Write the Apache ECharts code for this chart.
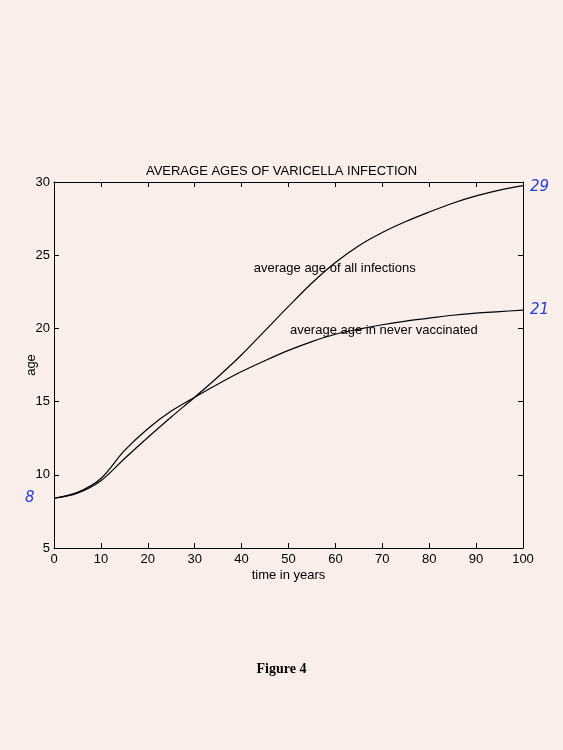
<!DOCTYPE html>
<html>
<head>
<meta charset="utf-8">
<script src="https://cdn.jsdelivr.net/npm/echarts@6/dist/echarts.min.js"></script>
<style>
  html, body { margin: 0; padding: 0; background: #f9eeea; }
  #main { width: 563px; height: 750px; }
</style>
</head>
<body>
<div id="main"></div>
<script>
// time in years
const years = [0, 5, 10, 15, 20, 25, 30, 35, 40, 45, 50, 55, 60, 65, 70, 75, 80, 85, 90, 95, 100];
// average age of all infections
const allInfections = [8.4, 8.75, 9.6, 11.1, 12.55, 13.95, 15.3, 16.7, 18.2, 19.85, 21.5, 23.1, 24.5, 25.65, 26.55, 27.3, 27.95, 28.55, 29.05, 29.45, 29.75];
// average age in never vaccinated
const neverVaccinated = [8.4, 8.8, 9.75, 11.65, 13.15, 14.35, 15.3, 16.2, 17.05, 17.8, 18.5, 19.1, 19.6, 19.95, 20.25, 20.5, 20.7, 20.9, 21.05, 21.15, 21.25];

const xMin = 0, xMax = 100, xStep = 10;
const yMin = 5, yMax = 30, yStep = 5;

// pen marks written on the printout
const penNotes = [
  { text: "29", at: [100, 29.75], dx: 7, dy: 1 },
  { text: "21", at: [100, 21.25], dx: 7, dy: 0 },
  { text: "8", at: [0, 8.4], dx: -29, dy: 0 }
];

const chart = echarts.init(document.getElementById("main"));

const font = "Liberation Sans, Arial, sans-serif";
const axisLine = { show: true, onZero: false, lineStyle: { color: "#000", width: 1 } };
const tickIn = { show: true, inside: true, length: 5, lineStyle: { color: "#000", width: 1 } };
const pair = (xs, ys) => xs.map((x, i) => [x, ys[i]]);

const option = {
  backgroundColor: "#f9eeea",
  animation: false,
  title: {
    text: "AVERAGE AGES OF VARICELLA INFECTION",
    left: "center",
    top: 160,
    textStyle: { fontFamily: font, fontSize: 13, fontWeight: "normal", color: "#000" }
  },
  grid: { left: 54, right: 40, top: 182, bottom: 202 },
  xAxis: [
    {
      type: "value", min: xMin, max: xMax, interval: xStep,
      name: "time in years", nameLocation: "middle", nameGap: 21,
      nameTextStyle: { fontFamily: font, fontSize: 13, color: "#000" },
      axisLine: axisLine, axisTick: tickIn, splitLine: { show: false },
      axisLabel: { fontFamily: font, fontSize: 13, color: "#000", margin: 5 }
    },
    {
      type: "value", min: xMin, max: xMax, interval: xStep, position: "top",
      axisLine: axisLine, axisTick: tickIn, splitLine: { show: false },
      axisLabel: { show: false }
    }
  ],
  yAxis: [
    {
      type: "value", min: yMin, max: yMax, interval: yStep,
      name: "age", nameLocation: "middle", nameGap: 16, nameMoveOverlap: false,
      nameTextStyle: { fontFamily: font, fontSize: 13, color: "#000" },
      axisLine: axisLine, axisTick: tickIn, splitLine: { show: false },
      axisLabel: { fontFamily: font, fontSize: 13, color: "#000", margin: 4 }
    },
    {
      type: "value", min: yMin, max: yMax, interval: yStep, position: "right",
      axisLine: axisLine, axisTick: tickIn, splitLine: { show: false },
      axisLabel: { show: false }
    }
  ],
  series: [
    {
      name: "average age of all infections",
      type: "line", smooth: 0.35, showSymbol: false,
      data: pair(years, allInfections),
      lineStyle: { color: "#000", width: 1.2 }
    },
    {
      name: "average age in never vaccinated",
      type: "line", smooth: 0.35, showSymbol: false,
      data: pair(years, neverVaccinated),
      lineStyle: { color: "#000", width: 1.2 }
    }
  ]
};

chart.setOption(option);

// curve labels and pen marks placed in data coordinates
const toPx = (p) => chart.convertToPixel({ gridIndex: 0 }, p);
const lblAll = toPx([42.6, 24.1]);
const lblNever = toPx([50.3, 19.85]);
const graphics = [
  { type: "text", x: lblAll[0], y: lblAll[1],
    style: { text: "average age of all infections", font: "13px " + font, fill: "#000", textVerticalAlign: "middle" } },
  { type: "text", x: lblNever[0], y: lblNever[1],
    style: { text: "average age in never vaccinated", font: "13px " + font, fill: "#000", textVerticalAlign: "middle" } },
  {
    type: "text", left: "center", top: 662,
    style: { text: "Figure 4", font: "bold 14px Liberation Serif, serif", fill: "#000" }
  }
];
penNotes.forEach(function (n) {
  const p = toPx(n.at);
  graphics.push({
    type: "text", x: p[0] + n.dx, y: p[1] + n.dy,
    style: { text: n.text, font: "italic 15px DejaVu Sans, sans-serif", fill: "#1f3fd6", textVerticalAlign: "middle" }
  });
});
chart.setOption({ graphic: graphics });
</script>
</body>
</html>
